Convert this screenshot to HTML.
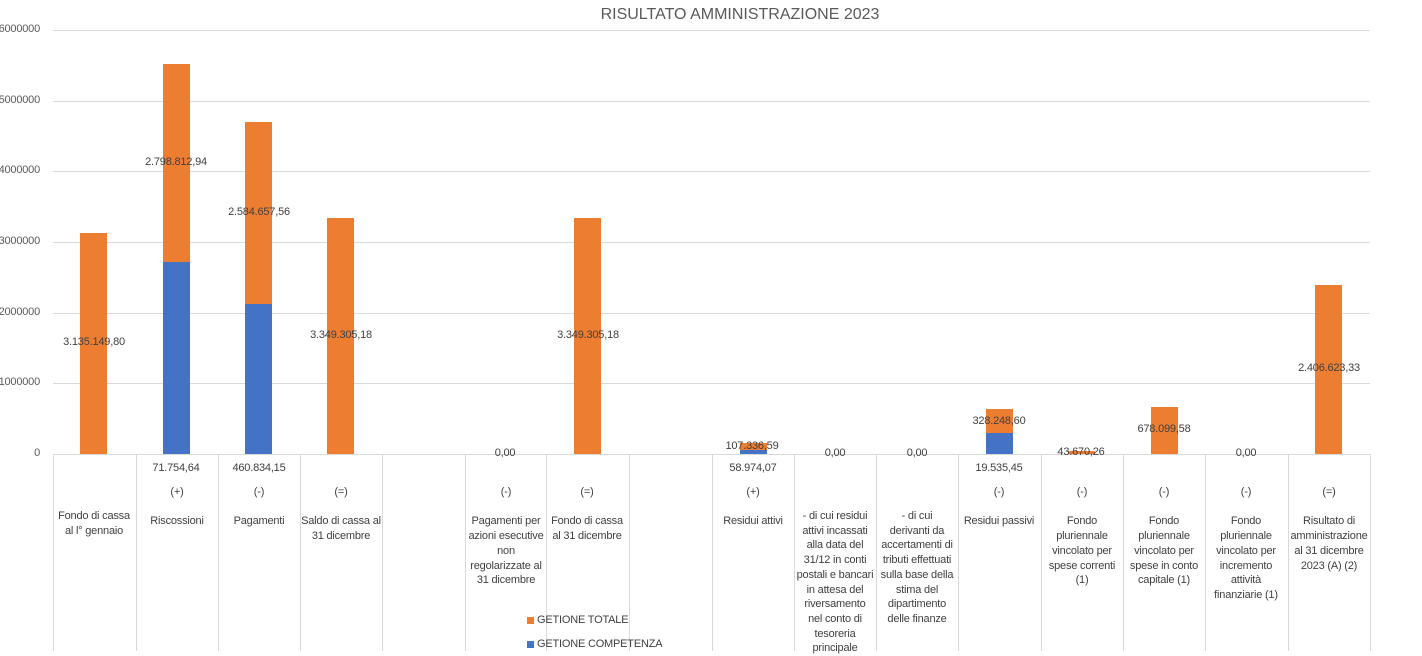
<!DOCTYPE html>
<html><head><meta charset="utf-8"><style>
body{margin:0;width:1422px;height:651px;background:#fff;position:relative;overflow:hidden;font-family:"Liberation Sans",sans-serif;font-size:11px;color:#404040;letter-spacing:-0.2px}
.a{position:absolute}
.g{position:absolute;left:53px;width:1317px;height:1px;background:#d9d9d9}
.v{position:absolute;top:454px;height:197px;width:1px;background:#d9d9d9}
.y{position:absolute;left:-4px;width:44px;text-align:right;color:#595959}
.o{position:absolute;background:#ed7d31;width:27px}
.b{position:absolute;background:#4472c4;width:27px}
.l{position:absolute;transform:translateX(-50%);white-space:nowrap}
.c{position:absolute;width:82px;text-align:center;line-height:14.7px;white-space:nowrap}
</style></head><body>
<div class="a" style="left:0;top:6px;width:1480px;text-align:center;font-size:16px;color:#595959;letter-spacing:0">RISULTATO AMMINISTRAZIONE 2023</div>
<div class="g" style="top:30px"></div><div class="g" style="top:101px"></div><div class="g" style="top:171px"></div><div class="g" style="top:242px"></div><div class="g" style="top:313px"></div><div class="g" style="top:383px"></div><div class="g" style="top:454px"></div>
<div class="y" style="top:23px">6000000</div><div class="y" style="top:94px">5000000</div><div class="y" style="top:164px">4000000</div><div class="y" style="top:235px">3000000</div><div class="y" style="top:306px">2000000</div><div class="y" style="top:376px">1000000</div><div class="y" style="top:447px">0</div>
<div class="v" style="left:53px"></div><div class="v" style="left:136px"></div><div class="v" style="left:218px"></div><div class="v" style="left:300px"></div><div class="v" style="left:382px"></div><div class="v" style="left:465px"></div><div class="v" style="left:546px"></div><div class="v" style="left:629px"></div><div class="v" style="left:712px"></div><div class="v" style="left:794px"></div><div class="v" style="left:876px"></div><div class="v" style="left:958px"></div><div class="v" style="left:1041px"></div><div class="v" style="left:1123px"></div><div class="v" style="left:1205px"></div><div class="v" style="left:1288px"></div><div class="v" style="left:1370px"></div>
<div class="o" style="left:80px;top:233px;height:221px"></div>
<div class="o" style="left:163px;top:64px;height:198px"></div><div class="b" style="left:163px;top:262px;height:192px"></div>
<div class="o" style="left:245px;top:122px;height:182px"></div><div class="b" style="left:245px;top:304px;height:150px"></div>
<div class="o" style="left:327px;top:218px;height:236px"></div>
<div class="o" style="left:574px;top:218px;height:236px"></div>
<div class="o" style="left:740px;top:443px;height:7px"></div><div class="b" style="left:740px;top:450px;height:4px"></div>
<div class="o" style="left:986px;top:409px;height:24px"></div><div class="b" style="left:986px;top:433px;height:21px"></div>
<div class="o" style="left:1068px;top:451px;height:3px"></div>
<div class="o" style="left:1151px;top:407px;height:47px"></div>
<div class="o" style="left:1315px;top:285px;height:169px"></div>
<div class="l" style="left:94px;top:336px">3.135.149,80</div>
<div class="l" style="left:176px;top:156px">2.798.812,94</div>
<div class="l" style="left:259px;top:206px">2.584.657,56</div>
<div class="l" style="left:341px;top:329px">3.349.305,18</div>
<div class="l" style="left:588px;top:329px">3.349.305,18</div>
<div class="l" style="left:1329px;top:362px">2.406.623,33</div>
<div class="l" style="left:999px;top:415px">328.248,60</div>
<div class="l" style="left:1164px;top:423px">678.099,58</div>
<div class="l" style="left:752px;top:440px">107.336,59</div>
<div class="l" style="left:1081px;top:446px">43.670,26</div>
<div class="l" style="left:505px;top:447px">0,00</div>
<div class="l" style="left:835px;top:447px">0,00</div>
<div class="l" style="left:917px;top:447px">0,00</div>
<div class="l" style="left:1246px;top:447px">0,00</div>
<div class="l" style="left:176px;top:462px">71.754,64</div>
<div class="l" style="left:259px;top:462px">460.834,15</div>
<div class="l" style="left:753px;top:462px">58.974,07</div>
<div class="l" style="left:999px;top:462px">19.535,45</div>
<div class="c" style="left:53px;top:509px">Fondo di cassa<br>al l° gennaio</div>
<div class="c" style="left:136px;top:485px">(+)<br><br>Riscossioni</div>
<div class="c" style="left:218px;top:485px">(-)<br><br>Pagamenti</div>
<div class="c" style="left:300px;top:485px">(=)<br><br>Saldo di cassa al<br>31 dicembre</div>
<div class="c" style="left:465px;top:485px">(-)<br><br>Pagamenti per<br>azioni esecutive<br>non<br>regolarizzate al<br>31 dicembre</div>
<div class="c" style="left:546px;top:485px">(=)<br><br>Fondo di cassa<br>al 31 dicembre</div>
<div class="c" style="left:712px;top:485px">(+)<br><br>Residui attivi</div>
<div class="c" style="left:794px;top:509px">- di cui residui<br>attivi incassati<br>alla data del<br>31/12 in conti<br>postali e bancari<br>in attesa del<br>riversamento<br>nel conto di<br>tesoreria<br>principale</div>
<div class="c" style="left:876px;top:509px">- di cui<br>derivanti da<br>accertamenti di<br>tributi effettuati<br>sulla base della<br>stima del<br>dipartimento<br>delle finanze</div>
<div class="c" style="left:958px;top:485px">(-)<br><br>Residui passivi</div>
<div class="c" style="left:1041px;top:485px">(-)<br><br>Fondo<br>pluriennale<br>vincolato per<br>spese correnti<br>(1)</div>
<div class="c" style="left:1123px;top:485px">(-)<br><br>Fondo<br>pluriennale<br>vincolato per<br>spese in conto<br>capitale (1)</div>
<div class="c" style="left:1205px;top:485px">(-)<br><br>Fondo<br>pluriennale<br>vincolato per<br>incremento<br>attività<br>finanziarie (1)</div>
<div class="c" style="left:1288px;top:485px">(=)<br><br>Risultato di<br>amministrazione<br>al 31 dicembre<br>2023 (A) (2)</div>
<div class="a" style="left:527px;top:617px;width:7px;height:7px;background:#ed7d31"></div>
<div class="a" style="left:537px;top:614px">GETIONE TOTALE</div>
<div class="a" style="left:527px;top:641px;width:7px;height:7px;background:#4472c4"></div>
<div class="a" style="left:537px;top:638px">GETIONE COMPETENZA</div>
</body></html>
